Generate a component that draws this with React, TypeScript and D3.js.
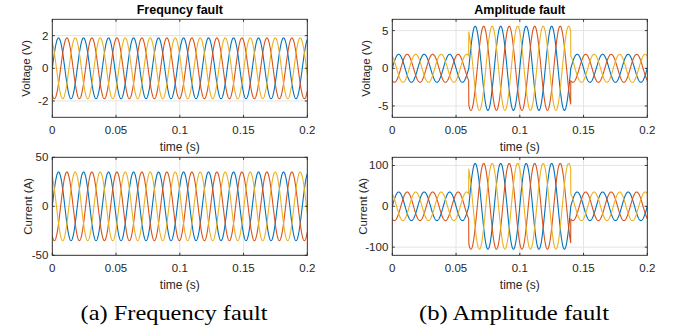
import { useMemo } from "react";
import * as d3 from "d3";

// time axis
const timeTicks = [0, 0.05, 0.1, 0.15, 0.2];
const timeTickLabels = ["0", "0.05", "0.1", "0.15", "0.2"];
const timeDomain = [0, 0.2];

// three phases, MATLAB default colour order
const phaseNames = ["A", "B", "C"];
const phaseShiftDeg = [0, -120, 120];
const phaseColors = ["#0072BD", "#D95319", "#EDB120"];

const freqFaultHz = 51;
const amplFaultHz = 50;
const voltagePeak = 1.86;
const currentPeak = 35;
const faultGain = 3;
const faultWindow = [0.06, 0.14];

const voltTicksA = [-2, 0, 2];
const voltTicksB = [-5, 0, 5];
const currTicksA = [-50, 0, 50];
const currTicksB = [-100, 0, 100];

const titles = ["Frequncy fault", "Amplitude fault"];
const captions = ["(a) Frequency fault", "(b) Amplitude fault"];

const W = 673;
const H = 331;
const cols = [
  { left: 52.3, right: 307.3 },
  { left: 392.3, right: 647.3 },
];
const rows = [
  { top: 19.3, bottom: 117.3 },
  { top: 157.3, bottom: 255.3 },
];
const sans = "Liberation Sans, Arial, Helvetica, sans-serif";
const serif = "Liberation Serif, Times New Roman, Times, serif";
const axisColor = "#262626";
const gridColor = "#e4e4e4";

function wave(freq: number, peak: number, withFault: boolean) {
  const n = 2000;
  return phaseShiftDeg.map((deg) => {
    const pts: [number, number][] = [];
    for (let i = 0; i <= n; i++) {
      const t = (i / n) * timeDomain[1];
      const inFault = withFault && t >= faultWindow[0] - 1e-9 && t < faultWindow[1] - 1e-9;
      const a = peak * (inFault ? faultGain : 1);
      pts.push([t, a * Math.sin(2 * Math.PI * freq * t + (deg * Math.PI) / 180)]);
    }
    return pts;
  });
}

interface PanelProps {
  id: string;
  col: number;
  row: number;
  yDomain: [number, number];
  yTicks: number[];
  yLabel: string;
  yLabelX: number;
  series: [number, number][][];
  title?: string;
}

function Panel({ id, col, row, yDomain, yTicks, yLabel, yLabelX, series, title }: PanelProps) {
  const { left, right } = cols[col];
  const { top, bottom } = rows[row];
  const x = d3.scaleLinear().domain(timeDomain).range([left, right]);
  const y = d3.scaleLinear().domain(yDomain).range([bottom, top]);
  const line = d3
    .line<[number, number]>()
    .x((d) => x(d[0]))
    .y((d) => y(d[1]));
  const tl = 2.5;
  const cx = (left + right) / 2;

  return (
    <g>
      <clipPath id={id}>
        <rect x={left} y={top} width={right - left} height={bottom - top} />
      </clipPath>
      <rect x={left} y={top} width={right - left} height={bottom - top} fill="#fff" />
      {timeTicks.map((t) => (
        <line key={"gx" + t} x1={x(t)} x2={x(t)} y1={top} y2={bottom} stroke={gridColor} strokeWidth={1} />
      ))}
      {yTicks.map((v) => (
        <line key={"gy" + v} x1={left} x2={right} y1={y(v)} y2={y(v)} stroke={gridColor} strokeWidth={1} />
      ))}
      <g clipPath={`url(#${id})`}>
        {series.map((pts, i) => (
          <path
            key={phaseNames[i]}
            d={line(pts) || ""}
            fill="none"
            stroke={phaseColors[i]}
            strokeWidth={1.1}
            strokeLinejoin="round"
          />
        ))}
      </g>
      <rect x={left} y={top} width={right - left} height={bottom - top} fill="none" stroke={axisColor} strokeWidth={0.9} />
      {timeTicks.map((t) => (
        <g key={"tx" + t}>
          <line x1={x(t)} x2={x(t)} y1={bottom} y2={bottom - tl} stroke={axisColor} strokeWidth={0.9} />
          <line x1={x(t)} x2={x(t)} y1={top} y2={top + tl} stroke={axisColor} strokeWidth={0.9} />
        </g>
      ))}
      {yTicks.map((v) => (
        <g key={"ty" + v}>
          <line x1={left} x2={left + tl} y1={y(v)} y2={y(v)} stroke={axisColor} strokeWidth={0.9} />
          <line x1={right} x2={right - tl} y1={y(v)} y2={y(v)} stroke={axisColor} strokeWidth={0.9} />
        </g>
      ))}
      <g style={{ fontFamily: sans, fontSize: "11.5px" }} fill={axisColor}>
        {timeTicks.map((t, i) => (
          <text key={"lx" + t} x={x(t)} y={bottom + 12.7} dominantBaseline="central" textAnchor="middle">
            {timeTickLabels[i]}
          </text>
        ))}
        {yTicks.map((v) => (
          <text key={"ly" + v} x={left - 4} y={y(v)} dominantBaseline="central" textAnchor="end">
            {String(v)}
          </text>
        ))}
        <text x={cx} y={bottom + 29.4} dominantBaseline="central" textAnchor="middle" style={{ fontSize: "12px" }}>
          time (s)
        </text>
        <text
          transform={`translate(${yLabelX},${(top + bottom) / 2}) rotate(-90)`}
          dominantBaseline="central"
          textAnchor="middle"
        >
          {yLabel}
        </text>
      </g>
      {title && (
        <text
          x={cx}
          y={10}
          dominantBaseline="central"
          textAnchor="middle"
          style={{ fontFamily: sans, fontWeight: "bold", fontSize: "12.5px" }}
          fill="#000"
        >
          {title}
        </text>
      )}
    </g>
  );
}

export default function App() {
  const vA = useMemo(() => wave(freqFaultHz, voltagePeak, false), []);
  const iA = useMemo(() => wave(freqFaultHz, currentPeak, false), []);
  const vB = useMemo(() => wave(amplFaultHz, voltagePeak, true), []);
  const iB = useMemo(() => wave(amplFaultHz, currentPeak, true), []);

  return (
    <svg
      width={W}
      height={H}
      viewBox={`0 0 ${W} ${H}`}
      style={{ position: "absolute", left: 0, top: 0, display: "block", background: "#fff" }}
    >
      <rect width={W} height={H} fill="#fff" />
      <Panel id="c1" col={0} row={0} yDomain={[-3, 3]} yTicks={voltTicksA} yLabel="Voltage (V)" yLabelX={25.5} series={vA} title={titles[0]} />
      <Panel id="c2" col={0} row={1} yDomain={[-50, 50]} yTicks={currTicksA} yLabel="Current (A)" yLabelX={28} series={iA} />
      <Panel id="c3" col={1} row={0} yDomain={[-6.5, 6.5]} yTicks={voltTicksB} yLabel="Voltage (V)" yLabelX={365.5} series={vB} title={titles[1]} />
      <Panel id="c4" col={1} row={1} yDomain={[-120, 120]} yTicks={currTicksB} yLabel="Current (A)" yLabelX={363.3} series={iB} />
      <g style={{ fontFamily: serif, fontSize: "21px" }} fill="#000">
        <text x={174} y={320} textAnchor="middle" textLength={187} lengthAdjust="spacingAndGlyphs">
          {captions[0]}
        </text>
        <text x={514} y={320} textAnchor="middle" textLength={190} lengthAdjust="spacingAndGlyphs">
          {captions[1]}
        </text>
      </g>
    </svg>
  );
}
